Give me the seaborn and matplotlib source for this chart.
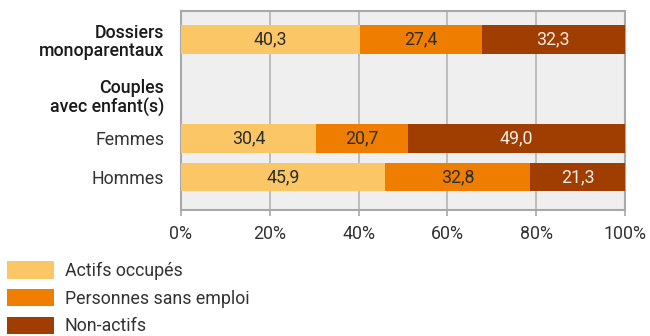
import matplotlib
matplotlib.use("Agg")
import matplotlib.pyplot as plt
import seaborn as sns
import pandas as pd
import numpy as np
from matplotlib.patches import Patch

# ---- data ----
categories = ["Dossiers\nmonoparentaux", "Couples\navec enfant(s)", "Femmes", "Hommes"]
actifs = [40.3, np.nan, 30.4, 45.9]
sans_emploi = [27.4, np.nan, 20.7, 32.8]
non_actifs = [32.3, np.nan, 49.0, 21.3]
series_names = ["Actifs occupés", "Personnes sans emploi", "Non-actifs"]
xtick_labels = ["0%", "20%", "40%", "60%", "80%", "100%"]

# ---- layout (row positions, not data) ----
row_pos = [0.0, 1.44, 2.54, 3.54]
bold_rows = [0, 1]
FS = 12.8

colors = ["#FBC665", "#EF7D00", "#A03D00"]
text_colors = ["#2E2E2E", "#2E2E2E", "#F5ECE4"]

sns.set_theme(style="white")
plt.rcParams["font.family"] = ["Roboto", "DejaVu Sans"]

df = pd.DataFrame({
    "cat": categories,
    "pos": row_pos,
    "a": actifs,
    "s": sans_emploi,
    "n": non_actifs,
})
df = df.dropna().reset_index(drop=True)
df["c1"] = df["a"]
df["c2"] = df["a"] + df["s"]
df["c3"] = df["a"] + df["s"] + df["n"]

fig = plt.figure(figsize=(6.5, 3.36), dpi=100)
ax = fig.add_axes([181 / 650, 1 - 210 / 336, 444 / 650, 199 / 336])
ax.set_facecolor("#EFEFEF")

for col, color in zip(["c3", "c2", "c1"], colors[::-1]):
    sns.barplot(data=df, x=col, y="pos", orient="y", native_scale=True,
                color=color, saturation=1, width=0.74, errorbar=None,
                linewidth=0, ax=ax, zorder=3)

# value labels
for _, row in df.iterrows():
    starts = [0, row["c1"], row["c2"]]
    vals = [row["a"], row["s"], row["n"]]
    for st, v, tc in zip(starts, vals, text_colors):
        ax.text(st + v / 2, row["pos"], f"{v:.1f}".replace(".", ","),
                ha="center", va="center", color=tc, fontsize=FS,
                fontweight="normal", zorder=4)

ax.set_xlim(0, 100)
ax.set_ylim(4.39, -0.74)
ax.set_xticks(np.linspace(0, 100, len(xtick_labels)), xtick_labels)
ax.set_yticks(row_pos, categories)
ax.set_xlabel("")
ax.set_ylabel("")

ax.grid(axis="x", color="#B3B3B3", linewidth=1.2, zorder=0)
ax.grid(axis="y", visible=False)
ax.set_axisbelow(True)
for sp in ax.spines.values():
    sp.set_visible(True)
    sp.set_color("#A8A8A8")
    sp.set_linewidth(1.5)

ax.tick_params(axis="x", length=4, width=1.2, color="#A8A8A8", pad=7,
               labelsize=FS, labelcolor="#333333", bottom=True)
ax.tick_params(axis="y", length=0, pad=12, labelsize=FS)
for lbl in ax.get_xticklabels():
    lbl.set_fontweight("normal")
for i, lbl in enumerate(ax.get_yticklabels()):
    if i in bold_rows:
        lbl.set_fontweight("medium")
        lbl.set_color("#1A1A1A")
        lbl.set_linespacing(1.05)
    else:
        lbl.set_fontweight("normal")
        lbl.set_color("#333333")

handles = [Patch(facecolor=c, edgecolor="none", label=n) for c, n in zip(colors, series_names)]
leg = fig.legend(handles=handles, loc="upper left", bbox_to_anchor=(0.0, 1 - 254 / 336),
                 frameon=False, fontsize=FS, handlelength=2.65, handleheight=1.15,
                 handletextpad=0.6, labelspacing=0.5, borderaxespad=0, borderpad=0.4)
for t in leg.get_texts():
    t.set_color("#333333")
    t.set_fontweight("normal")

fig.savefig("out.png", dpi=100)
